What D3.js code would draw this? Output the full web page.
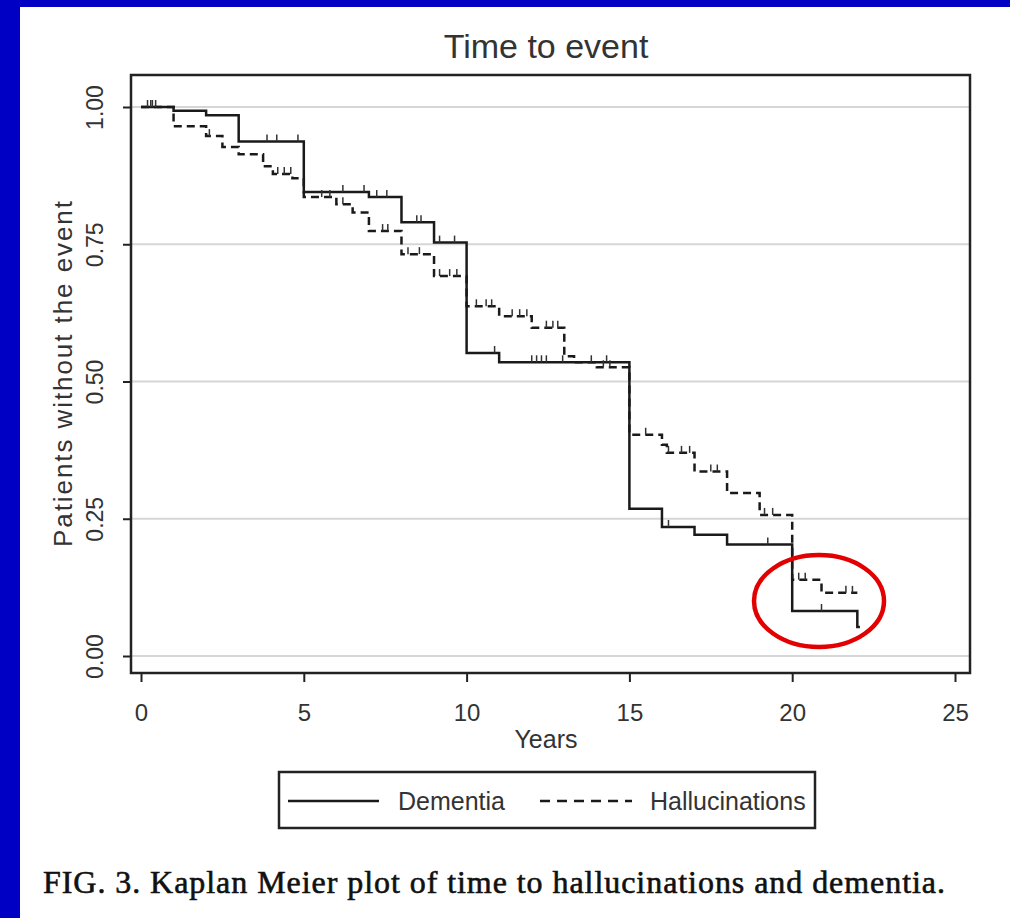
<!DOCTYPE html>
<html>
<head>
    <meta charset="utf-8">
    <title>Time to event</title>
    <script src="https://d3js.org/d3.v7.min.js"></script>
    <style>
        body { margin: 0; background: #ffffff; }
        svg { display: block; }
        .narrow { font-family: "Liberation Sans Narrow", "Arial Narrow", "Liberation Sans", Arial, sans-serif; fill: #333; }
    </style>
</head>
<body>
    <svg width="1010" height="918"></svg>
    <script>
        // Kaplan-Meier steps: time (years) and survival after the drop
        const dementiaTimes = [0, 1.0, 2.0, 3.0, 5.0, 7.0, 8.0, 9.0, 10.0, 11.0, 15.0, 16.0, 17.0, 18.0, 20.0, 22.0];
        const dementiaSurv  = [1.0, 0.993, 0.985, 0.937, 0.845, 0.836, 0.79, 0.753, 0.552, 0.535, 0.268, 0.235, 0.221, 0.203, 0.082, 0.053];
        const dementiaEnd = 22.08;
        const dementiaCensor = [0.3, 0.45, 3.87, 4.17, 4.82, 6.2, 6.85, 7.24, 7.55, 8.47, 8.6, 9.17, 9.63, 10.86, 12.0, 12.15, 12.3, 12.45, 12.95, 13.83, 14.3, 16.2, 19.25, 20.9];

        const hallTimes = [0, 1.0, 2.0, 2.5, 3.0, 3.75, 4.05, 4.65, 5.0, 6.0, 6.5, 7.0, 8.0, 9.0, 10.0, 11.0, 12.0, 13.0, 13.3, 14.0, 15.0, 16.0, 16.15, 17.0, 18.0, 19.0, 20.0, 20.9];
        const hallSurv  = [1.0, 0.965, 0.947, 0.927, 0.914, 0.892, 0.878, 0.87, 0.836, 0.823, 0.808, 0.774, 0.732, 0.692, 0.637, 0.619, 0.598, 0.546, 0.535, 0.526, 0.403, 0.385, 0.37, 0.336, 0.297, 0.257, 0.139, 0.115];
        const hallEnd = 22.0;
        const hallCensor = [0.2, 0.35, 2.1, 4.2, 4.4, 4.6, 5.55, 5.8, 6.2, 7.42, 7.58, 8.2, 8.55, 9.17, 9.48, 9.7, 10.3, 10.6, 10.77, 11.4, 11.63, 11.85, 12.45, 12.65, 12.8, 14.2, 14.4, 15.5, 16.2, 16.6, 16.85, 17.5, 17.7, 19.15, 19.4, 20.2, 20.4, 21.65, 21.85];

        const xTicks = [0, 5, 10, 15, 20, 25];
        const yTicks = [0, 0.25, 0.5, 0.75, 1.0];
        const seriesNames = ["Dementia", "Hallucinations"];

        const svg = d3.select("svg");

        // blue slide border
        svg.append("rect").attr("x", 0).attr("y", 0).attr("width", 1010).attr("height", 7).attr("fill", "#0000c4");
        svg.append("rect").attr("x", 0).attr("y", 0).attr("width", 20).attr("height", 918).attr("fill", "#0000c4");

        // plot frame
        const frame = { left: 131, top: 75, right: 970, bottom: 673 };
        const x = d3.scaleLinear().domain([0, 25]).range([141, 955]);
        const y = d3.scaleLinear().domain([0, 1]).range([656, 107]);

        // grid lines
        svg.append("g").selectAll("line").data(yTicks).join("line")
            .attr("x1", frame.left).attr("x2", frame.right)
            .attr("y1", d => y(d)).attr("y2", d => y(d))
            .attr("stroke", "#d6d6d6").attr("stroke-width", 2);

        svg.append("rect")
            .attr("x", frame.left).attr("y", frame.top)
            .attr("width", frame.right - frame.left).attr("height", frame.bottom - frame.top)
            .attr("fill", "none").attr("stroke", "#222").attr("stroke-width", 2.5);

        // axes
        const xAxis = svg.append("g")
            .attr("transform", `translate(0,${frame.bottom})`)
            .call(d3.axisBottom(x).tickValues(xTicks).tickSize(9).tickPadding(22));
        xAxis.select(".domain").remove();
        xAxis.selectAll("line").attr("stroke", "#222").attr("stroke-width", 2);
        xAxis.selectAll("text").attr("class", "narrow").attr("font-size", 24).attr("fill", "#333");

        const yAxis = svg.append("g")
            .attr("transform", `translate(${frame.left},0)`)
            .call(d3.axisLeft(y).tickValues(yTicks).tickFormat(d3.format(".2f")).tickSize(8));
        yAxis.select(".domain").remove();
        yAxis.selectAll("line").attr("stroke", "#222").attr("stroke-width", 2);
        yAxis.selectAll("text")
            .attr("class", "narrow").attr("font-size", 23).attr("fill", "#333")
            .attr("x", 0).attr("dy", 0)
            .attr("text-anchor", "middle")
            .attr("transform", "translate(-28,0) rotate(-90)");

        // titles
        svg.append("text").attr("class", "narrow")
            .attr("x", 546).attr("y", 58).attr("text-anchor", "middle")
            .attr("font-size", 34).text("Time to event");
        svg.append("text").attr("class", "narrow")
            .attr("x", 546).attr("y", 748).attr("text-anchor", "middle")
            .attr("font-size", 25).text("Years");
        svg.append("text").attr("class", "narrow")
            .attr("transform", "translate(72,374) rotate(-90)").attr("text-anchor", "middle")
            .attr("font-size", 26).attr("textLength", 346).attr("lengthAdjust", "spacing")
            .text("Patients without the event");

        // step curves
        const line = d3.line().x(d => x(d[0])).y(d => y(d[1])).curve(d3.curveStepAfter);
        function stepPoints(times, surv, end) {
            const pts = times.map((t, i) => [t, surv[i]]);
            pts.push([end, surv[surv.length - 1]]);
            return pts;
        }
        function survAt(times, surv, t) {
            let s = surv[0];
            times.forEach((tt, i) => { if (tt <= t) s = surv[i]; });
            return s;
        }

        svg.append("path")
            .datum(stepPoints(hallTimes, hallSurv, hallEnd))
            .attr("d", line).attr("fill", "none")
            .attr("stroke", "#1a1a1a").attr("stroke-width", 2.5)
            .attr("stroke-dasharray", "8,5");

        svg.append("path")
            .datum(stepPoints(dementiaTimes, dementiaSurv, dementiaEnd))
            .attr("d", line).attr("fill", "none")
            .attr("stroke", "#1a1a1a").attr("stroke-width", 2.5);

        // censor ticks
        svg.append("g").selectAll("line").data(hallCensor).join("line")
            .attr("x1", d => x(d)).attr("x2", d => x(d))
            .attr("y1", d => y(survAt(hallTimes, hallSurv, d)))
            .attr("y2", d => y(survAt(hallTimes, hallSurv, d)) - 7)
            .attr("stroke", "#333").attr("stroke-width", 1.5);
        svg.append("g").selectAll("line").data(dementiaCensor).join("line")
            .attr("x1", d => x(d)).attr("x2", d => x(d))
            .attr("y1", d => y(survAt(dementiaTimes, dementiaSurv, d)))
            .attr("y2", d => y(survAt(dementiaTimes, dementiaSurv, d)) - 7)
            .attr("stroke", "#333").attr("stroke-width", 1.5);

        // legend
        const legend = svg.append("g");
        legend.append("rect")
            .attr("x", 279).attr("y", 772).attr("width", 536).attr("height", 56)
            .attr("fill", "none").attr("stroke", "#222").attr("stroke-width", 2.5);
        legend.append("line").attr("x1", 288).attr("x2", 379).attr("y1", 801).attr("y2", 801)
            .attr("stroke", "#1a1a1a").attr("stroke-width", 2.5);
        legend.append("line").attr("x1", 540).attr("x2", 632).attr("y1", 801).attr("y2", 801)
            .attr("stroke", "#1a1a1a").attr("stroke-width", 2.5).attr("stroke-dasharray", "10,7");
        legend.append("text").attr("class", "narrow")
            .attr("x", 398).attr("y", 810).attr("font-size", 25).text(seriesNames[0]);
        legend.append("text").attr("class", "narrow")
            .attr("x", 650).attr("y", 810).attr("font-size", 25).text(seriesNames[1]);

        // red highlight ellipse
        svg.append("ellipse")
            .attr("cx", 819).attr("cy", 601).attr("rx", 65).attr("ry", 46)
            .attr("fill", "none").attr("stroke", "#e20000").attr("stroke-width", 4.5);

        // caption
        svg.append("text")
            .attr("x", 43).attr("y", 893)
            .attr("font-family", "'Liberation Serif', 'Times New Roman', serif")
            .attr("font-size", 32).attr("fill", "#111")
            .attr("stroke", "#111").attr("stroke-width", 0.6)
            .attr("textLength", 902).attr("lengthAdjust", "spacing")
            .text("FIG. 3.  Kaplan Meier plot of time to hallucinations and dementia.");
    </script>
</body>
</html>
